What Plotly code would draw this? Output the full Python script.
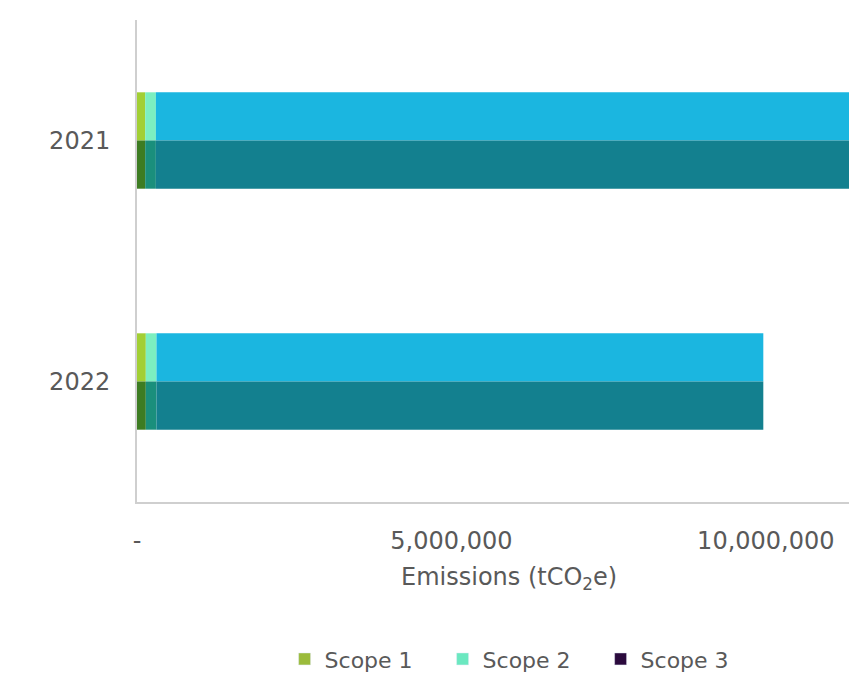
import plotly.graph_objects as go

years = ["2021", "2022"]
scope_names = ["Scope 1", "Scope 2", "Scope 3"]
scope1 = [130000, 140000]
scope2 = [170000, 170000]
scope3 = [11500000, 9650000]
tick_vals = [0, 5000000, 10000000]
tick_text = ["-", "5,000,000", "10,000,000"]

series = [scope1, scope2, scope3]
top_colors = ["#a2cf34", "#7cefc0", "#1bb6e0"]
bottom_colors = ["#3d7c22", "#1a8f7c", "#13808f"]
legend_colors = ["#9bbb3b", "#6be8c0", "#2b0a3d"]

FONT = "DejaVu Sans"
GREY = "#595959"

fig = go.Figure()

bases = [0] * len(years)
for i, vals in enumerate(series):
    # upper (light) half
    fig.add_trace(go.Bar(
        y=years, x=vals, base=bases, orientation="h",
        width=0.2, offset=-0.2, marker=dict(color=top_colors[i], line=dict(width=0)),
        showlegend=False, hoverinfo="x+y", name=scope_names[i]))
    # lower (dark) half
    fig.add_trace(go.Bar(
        y=years, x=vals, base=bases, orientation="h",
        width=0.2, offset=0.0, marker=dict(color=bottom_colors[i], line=dict(width=0)),
        showlegend=False, hoverinfo="x+y", name=scope_names[i]))
    bases = [b + v for b, v in zip(bases, vals)]

for i, name in enumerate(scope_names):
    fig.add_trace(go.Bar(
        y=[None], x=[None], orientation="h", name=name,
        marker=dict(color=legend_colors[i]), showlegend=True))

fig.update_layout(
    width=849, height=667,
    barmode="overlay",
    plot_bgcolor="white", paper_bgcolor="white",
    margin=dict(l=129, r=0, t=12, b=173, autoexpand=False),
    font=dict(family=FONT, size=24, color=GREY),
    xaxis=dict(
        range=[0, 11450000], tickvals=tick_vals, ticktext=tick_text,
        showgrid=False, zeroline=False, showline=True, automargin=False,
        linecolor="#cfcfcf", linewidth=2, ticks="", ticklabelstandoff=16,
        tickfont=dict(family=FONT, size=24, color=GREY)),
    yaxis=dict(
        type="category", categoryorder="array", categoryarray=years,
        range=[1.5, -0.5], showgrid=False, zeroline=False, showline=True,
        automargin=False,
        linecolor="#cfcfcf", linewidth=2, ticks="", ticklabelstandoff=20,
        tickfont=dict(family=FONT, size=24, color=GREY)),
    legend=dict(
        orientation="h", x=0.205, xanchor="left", y=-0.326, yanchor="middle",
        font=dict(family=FONT, size=22, color=GREY), entrywidth=113,
        itemwidth=30, tracegroupgap=0, bgcolor="rgba(0,0,0,0)"),
    annotations=[dict(
        text="Emissions (tCO<sub>2</sub>e)", xref="paper", yref="paper",
        x=0.517, y=-0.158, xanchor="center", yanchor="middle", showarrow=False,
        font=dict(family=FONT, size=24, color=GREY))],
)

fig.write_html("out.html")
